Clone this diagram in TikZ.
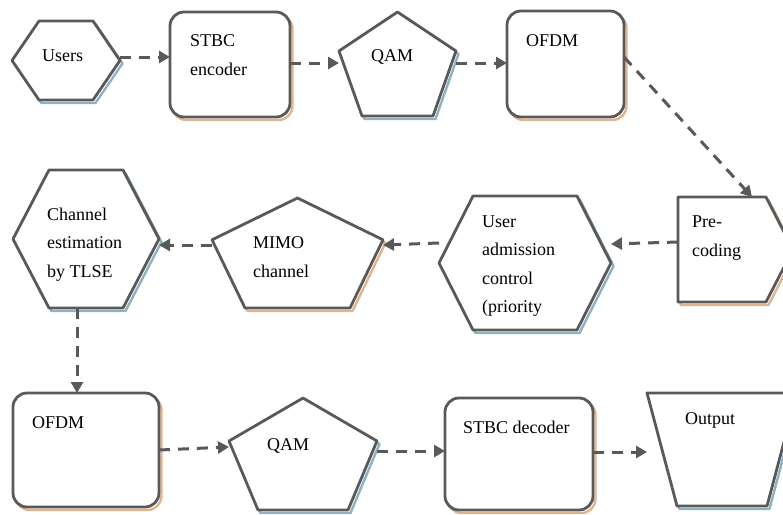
\documentclass[tikz,border=0pt]{standalone}
\usepackage{fontspec}
\setmainfont{Liberation Serif}
\usetikzlibrary{arrows.meta,calc}

\definecolor{edge}{HTML}{595959}
\definecolor{warmshade}{HTML}{E2B48E}
\definecolor{coolshade}{HTML}{8FB1C2}

% outline paths built from the anchors of an invisible bounding node
\newcommand\hexpath[2]{(#1.west) -- ([xshift=#2]#1.north west) -- ([xshift=-#2]#1.north east) -- (#1.east) -- ([xshift=-#2]#1.south east) -- ([xshift=#2]#1.south west) -- cycle}
\newcommand\pentapath[3]{(#1.north) -- ($(#1.north west)!#2!(#1.south west)$) -- ([xshift=#3]#1.south west) -- ([xshift=-#3]#1.south east) -- ($(#1.north east)!#2!(#1.south east)$) -- cycle}
\newcommand\roundpath[1]{(#1.north west) rectangle (#1.south east)}
\newcommand\tagpath[2]{(#1.north west) -- ([xshift=-#2]#1.north east) -- (#1.east) -- ([xshift=-#2]#1.south east) -- (#1.south west) -- cycle}
\newcommand\trappath[2]{(#1.north west) -- (#1.north east) -- ([xshift=-#2]#1.south east) -- ([xshift=#2]#1.south west) -- cycle}

\tikzset{
  bbox/.style 2 args={rectangle, inner sep=0pt, outer sep=0pt, minimum width=#1pt, minimum height=#2pt},
  outline/.style={draw=edge, line width=2.8pt, fill=white, line join=round},
  shade/.style={draw=#1, line width=2.4pt, line join=round, transform canvas={shift={(2.5,3)}}},
  flow/.style={draw=edge, line width=3pt, dash pattern=on 11pt off 8pt, -{Triangle[length=11pt,width=12pt]}},
  % anchored at the baseline of the last line
  label/.style={font=\fontsize{18}{28.5}\selectfont, inner sep=0pt, anchor=base west, align=left},
}

\begin{document}
\begin{tikzpicture}[x=1pt, y=-1pt]
\useasboundingbox (0,0) rectangle (783,514);
\clip (0,0) rectangle (783,514);

% bounding nodes of the blocks
\node[bbox={108}{79}]  (users) at (66,60.5) {};
\node[bbox={120}{105}] (stbcE) at (230,64.5) {};
\node[bbox={117}{104}] (qam1)  at (397.5,64) {};
\node[bbox={117}{106}] (ofdm1) at (565.5,64) {};
\node[bbox={115}{105}] (pre)   at (735.5,249.5) {};
\node[bbox={172}{134}] (ua)    at (525,263) {};
\node[bbox={171}{110}] (mimo)  at (297.5,253) {};
\node[bbox={146}{138}] (ch)    at (86,239) {};
\node[bbox={146}{114}] (ofdm2) at (86,450) {};
\node[bbox={148}{112}] (qam2)  at (303,454) {};
\node[bbox={148}{112}] (stbcD) at (519,454) {};
\node[bbox={150}{113}] (out)   at (722,449.5) {};

% drop shadows
\draw[shade=coolshade] \hexpath{users}{27};
\draw[shade=warmshade, rounded corners=14pt] \roundpath{stbcE};
\draw[shade=coolshade] \pentapath{qam1}{0.375}{23};
\draw[shade=warmshade, rounded corners=14pt] \roundpath{ofdm1};
\draw[shade=warmshade] \tagpath{pre}{27};
\draw[shade=coolshade] \hexpath{ua}{34};
\draw[shade=warmshade] \pentapath{mimo}{0.38}{33};
\draw[shade=coolshade] \hexpath{ch}{36};
\draw[shade=warmshade, rounded corners=14pt] \roundpath{ofdm2};
\draw[shade=coolshade] \pentapath{qam2}{0.384}{29};
\draw[shade=warmshade, rounded corners=14pt] \roundpath{stbcD};
\draw[shade=coolshade] \trappath{out}{30};

% block outlines
\draw[outline] \hexpath{users}{27};
\draw[outline, rounded corners=14pt] \roundpath{stbcE};
\draw[outline] \pentapath{qam1}{0.375}{23};
\draw[outline, rounded corners=14pt] \roundpath{ofdm1};
\draw[outline] \tagpath{pre}{27};
\draw[outline] \hexpath{ua}{34};
\draw[outline] \pentapath{mimo}{0.38}{33};
\draw[outline] \hexpath{ch}{36};
\draw[outline, rounded corners=14pt] \roundpath{ofdm2};
\draw[outline] \pentapath{qam2}{0.384}{29};
\draw[outline, rounded corners=14pt] \roundpath{stbcD};
\draw[outline] \trappath{out}{30};

% labels
\node[label] (users-text) at (42,61) {Users};
\node[label] (stbcE-text) at (190,75) {STBC\\encoder};
\node[label] (qam1-text)  at (371,61) {QAM};
\node[label] (ofdm1-text) at (526,46) {OFDM};
\node[label] (pre-text)   at (692,256) {Pre-\\coding};
\node[label] (ua-text)    at (482,312.5) {User\\admission\\control\\(priority};
\node[label] (mimo-text)  at (253,277) {MIMO\\channel};
\node[label] (ch-text)    at (47,277) {Channel\\estimation\\by TLSE};
\node[label] (ofdm2-text) at (32,428) {OFDM};
\node[label] (qam2-text)  at (267,450) {QAM};
\node[label] (stbcD-text) at (463,433) {STBC decoder};
\node[label] (out-text)   at (685,424) {Output};

% signal flow
\draw[flow] ([yshift=3.5pt]users.east) -- ([yshift=7.5pt]stbcE.west);
\draw[flow] ([yshift=1.5pt]stbcE.east) -- ([yshift=1pt]qam1.west);
\draw[flow] ([yshift=1pt]qam1.east) -- ([yshift=1pt]ofdm1.west);
\draw[flow] ([yshift=7pt]ofdm1.east) -- ([xshift=16.5pt]pre.north);
\draw[flow] ([yshift=7.5pt]pre.west) -- ([yshift=19pt]ua.east);
\draw[flow] ([yshift=20pt]ua.west) -- ([yshift=8pt]mimo.east);
\draw[flow] ([yshift=8pt]mimo.west) -- ([yshift=-6pt]ch.east);
\draw[flow] ([xshift=-9pt]ch.south) -- ([xshift=-9pt]ofdm2.north);
\draw[flow] (ofdm2.east) -- ([yshift=7pt]qam2.west);
\draw[flow] ([yshift=3pt]qam2.east) -- ([yshift=3pt]stbcD.west);
\draw[flow] ([yshift=2pt]stbcD.east) -- ([yshift=-2.5pt]out.west);
\end{tikzpicture}
\end{document}
